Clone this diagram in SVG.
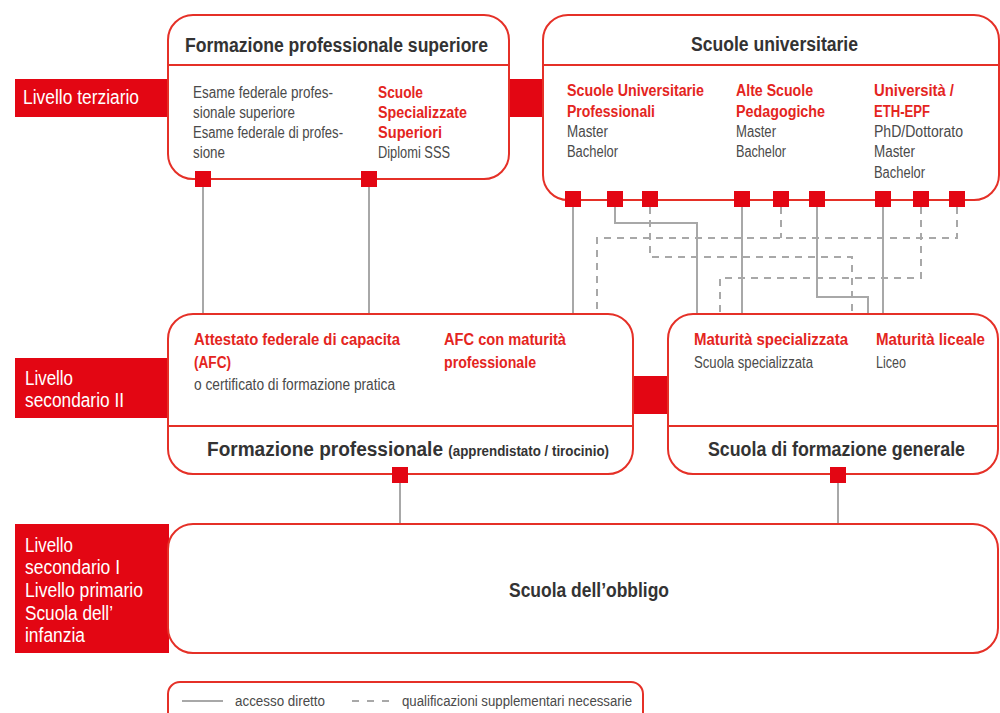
<svg xmlns="http://www.w3.org/2000/svg" width="1000" height="713" viewBox="0 0 1000 713">
  <style>
    .box { fill: #ffffff; stroke: #e53027; stroke-width: 2; }
    .div { stroke: #e53027; stroke-width: 2; fill: none; }
    .band { fill: #e30613; }
    .port { fill: #e30613; }
    .solid { fill: none; stroke: #a8a8a8; stroke-width: 2; }
    .dash { fill: none; stroke: #a8a8a8; stroke-width: 2; stroke-dasharray: 7 6; }
    text { font-family: "Liberation Sans", Arial, sans-serif; }
    .head { font-size: 20px; font-weight: bold; fill: #333333; }
    .sub { font-size: 14px; font-weight: bold; fill: #333333; }
    .body { font-size: 16px; fill: #4a4a4a; }
    .red { font-size: 16px; font-weight: bold; fill: #e4251e; }
    .lab { font-size: 20px; fill: #ffffff; }
    .leg { font-size: 14px; fill: #4a4a4a; }
  </style>

  <!-- level bands -->
  <g id="level-terziario">
    <rect class="band" x="15" y="79" width="154" height="38"/>
    <text class="lab" x="23" y="104" textLength="116" lengthAdjust="spacingAndGlyphs">Livello terziario</text>
  </g>
  <g id="level-secondario-2">
    <rect class="band" x="15" y="358" width="154" height="60"/>
    <text class="lab" x="25" y="385" textLength="48" lengthAdjust="spacingAndGlyphs">Livello</text>
    <text class="lab" x="25" y="407" textLength="99" lengthAdjust="spacingAndGlyphs">secondario II</text>
  </g>
  <g id="level-obbligo">
    <rect class="band" x="15" y="524" width="154" height="129"/>
    <text class="lab" x="25" y="552" textLength="48" lengthAdjust="spacingAndGlyphs">Livello</text>
    <text class="lab" x="25" y="574" textLength="95" lengthAdjust="spacingAndGlyphs">secondario I</text>
    <text class="lab" x="25" y="597" textLength="118" lengthAdjust="spacingAndGlyphs">Livello primario</text>
    <text class="lab" x="25" y="620" textLength="88" lengthAdjust="spacingAndGlyphs">Scuola dell’</text>
    <text class="lab" x="25" y="642" textLength="60" lengthAdjust="spacingAndGlyphs">infanzia</text>
  </g>

  <!-- bridges between neighbouring boxes -->
  <rect class="band" x="508" y="79" width="36" height="38"/>
  <rect class="band" x="632" y="376" width="37" height="38"/>

  <!-- connectors -->
  <g id="connectors">
    <path class="solid" d="M203 187 V314"/>
    <path class="solid" d="M369 187 V314"/>
    <path class="solid" d="M573 207 V314"/>
    <path class="solid" d="M615 207 V223 H697 V314"/>
    <path class="solid" d="M742 207 V314"/>
    <path class="solid" d="M817 207 V297 H868 V314"/>
    <path class="solid" d="M883 207 V314"/>
    <path class="solid" d="M400 482 V524"/>
    <path class="solid" d="M838 482 V524"/>
    <path class="dash" d="M650 207 V257 H852 V314"/>
    <path class="dash" d="M957 207 V238 H597 V314"/>
    <path class="dash" d="M781 207 V238"/>
    <path class="dash" d="M921 207 V278 H720 V314"/>
  </g>

  <!-- higher vocational education -->
  <g id="formazione-superiore">
    <rect class="box" x="168" y="15" width="341" height="164" rx="25"/>
    <line class="div" x1="168" y1="65" x2="509" y2="65"/>
    <text class="head" x="185" y="52" textLength="303" lengthAdjust="spacingAndGlyphs">Formazione professionale superiore</text>
    <text class="body" x="193" y="98" textLength="140" lengthAdjust="spacingAndGlyphs">Esame federale profes-</text>
    <text class="body" x="193" y="118" textLength="102" lengthAdjust="spacingAndGlyphs">sionale superiore</text>
    <text class="body" x="193" y="138" textLength="150" lengthAdjust="spacingAndGlyphs">Esame federale di profes-</text>
    <text class="body" x="193" y="158" textLength="32" lengthAdjust="spacingAndGlyphs">sione</text>
    <text class="red" x="378" y="98" textLength="45" lengthAdjust="spacingAndGlyphs">Scuole</text>
    <text class="red" x="378" y="118" textLength="89" lengthAdjust="spacingAndGlyphs">Specializzate</text>
    <text class="red" x="378" y="138" textLength="64" lengthAdjust="spacingAndGlyphs">Superiori</text>
    <text class="body" x="378" y="158" textLength="72" lengthAdjust="spacingAndGlyphs">Diplomi SSS</text>
    <rect class="port" x="195" y="171" width="16" height="16"/>
    <rect class="port" x="361" y="171" width="16" height="16"/>
  </g>

  <!-- universities -->
  <g id="scuole-universitarie">
    <rect class="box" x="543" y="15" width="456" height="185" rx="25"/>
    <line class="div" x1="543" y1="65" x2="999" y2="65"/>
    <text class="head" x="691" y="51" textLength="167" lengthAdjust="spacingAndGlyphs">Scuole universitarie</text>
    <text class="red" x="567" y="96" textLength="137" lengthAdjust="spacingAndGlyphs">Scuole Universitarie</text>
    <text class="red" x="567" y="117" textLength="88" lengthAdjust="spacingAndGlyphs">Professionali</text>
    <text class="body" x="567" y="137" textLength="41" lengthAdjust="spacingAndGlyphs">Master</text>
    <text class="body" x="567" y="157" textLength="51" lengthAdjust="spacingAndGlyphs">Bachelor</text>
    <text class="red" x="736" y="96" textLength="77" lengthAdjust="spacingAndGlyphs">Alte Scuole</text>
    <text class="red" x="736" y="117" textLength="89" lengthAdjust="spacingAndGlyphs">Pedagogiche</text>
    <text class="body" x="736" y="137" textLength="40" lengthAdjust="spacingAndGlyphs">Master</text>
    <text class="body" x="736" y="157" textLength="50" lengthAdjust="spacingAndGlyphs">Bachelor</text>
    <text class="red" x="874" y="96" textLength="80" lengthAdjust="spacingAndGlyphs">Università /</text>
    <text class="red" x="874" y="117" textLength="56" lengthAdjust="spacingAndGlyphs">ETH-EPF</text>
    <text class="body" x="874" y="137" textLength="89" lengthAdjust="spacingAndGlyphs">PhD/Dottorato</text>
    <text class="body" x="874" y="157" textLength="41" lengthAdjust="spacingAndGlyphs">Master</text>
    <text class="body" x="874" y="178" textLength="51" lengthAdjust="spacingAndGlyphs">Bachelor</text>
    <rect class="port" x="565" y="191" width="16" height="16"/>
    <rect class="port" x="607" y="191" width="16" height="16"/>
    <rect class="port" x="642" y="191" width="16" height="16"/>
    <rect class="port" x="734" y="191" width="16" height="16"/>
    <rect class="port" x="773" y="191" width="16" height="16"/>
    <rect class="port" x="809" y="191" width="16" height="16"/>
    <rect class="port" x="875" y="191" width="16" height="16"/>
    <rect class="port" x="913" y="191" width="16" height="16"/>
    <rect class="port" x="949" y="191" width="16" height="16"/>
  </g>

  <!-- vocational training -->
  <g id="formazione-professionale">
    <rect class="box" x="168" y="314" width="465" height="160" rx="25"/>
    <line class="div" x1="168" y1="426" x2="633" y2="426"/>
    <text class="red" x="194" y="345" textLength="206" lengthAdjust="spacingAndGlyphs">Attestato federale di capacita</text>
    <text class="red" x="194" y="368" textLength="37" lengthAdjust="spacingAndGlyphs">(AFC)</text>
    <text class="body" x="194" y="390" textLength="201" lengthAdjust="spacingAndGlyphs">o certificato di formazione pratica</text>
    <text class="red" x="444" y="345" textLength="122" lengthAdjust="spacingAndGlyphs">AFC con maturità</text>
    <text class="red" x="444" y="368" textLength="92" lengthAdjust="spacingAndGlyphs">professionale</text>
    <text class="head" x="207" y="456" textLength="402" lengthAdjust="spacingAndGlyphs">Formazione professionale <tspan class="sub">(apprendistato / tirocinio)</tspan></text>
    <rect class="port" x="392" y="467" width="16" height="16"/>
  </g>

  <!-- general education -->
  <g id="formazione-generale">
    <rect class="box" x="668" y="314" width="330" height="160" rx="25"/>
    <line class="div" x1="668" y1="426" x2="998" y2="426"/>
    <text class="red" x="694" y="345" textLength="154" lengthAdjust="spacingAndGlyphs">Maturità specializzata</text>
    <text class="body" x="694" y="368" textLength="119" lengthAdjust="spacingAndGlyphs">Scuola specializzata</text>
    <text class="red" x="876" y="345" textLength="109" lengthAdjust="spacingAndGlyphs">Maturità liceale</text>
    <text class="body" x="876" y="368" textLength="30" lengthAdjust="spacingAndGlyphs">Liceo</text>
    <text class="head" x="708" y="456" textLength="257" lengthAdjust="spacingAndGlyphs">Scuola di formazione generale</text>
    <rect class="port" x="830" y="467" width="16" height="16"/>
  </g>

  <!-- compulsory school -->
  <g id="scuola-obbligo">
    <rect class="box" x="168" y="524" width="830" height="129" rx="25"/>
    <text class="head" x="509" y="597" textLength="160" lengthAdjust="spacingAndGlyphs">Scuola dell’obbligo</text>
  </g>

  <!-- legend -->
  <g id="legend">
    <rect class="box" x="168" y="682" width="475" height="44" rx="12"/>
    <line class="solid" x1="182" y1="701" x2="223" y2="701"/>
    <text class="leg" x="235" y="706" textLength="90" lengthAdjust="spacingAndGlyphs">accesso diretto</text>
    <line class="dash" x1="352" y1="701" x2="392" y2="701" style="stroke-dasharray: 7 8"/>
    <text class="leg" x="402" y="706" textLength="230" lengthAdjust="spacingAndGlyphs">qualificazioni supplementari necessarie</text>
  </g>
</svg>
